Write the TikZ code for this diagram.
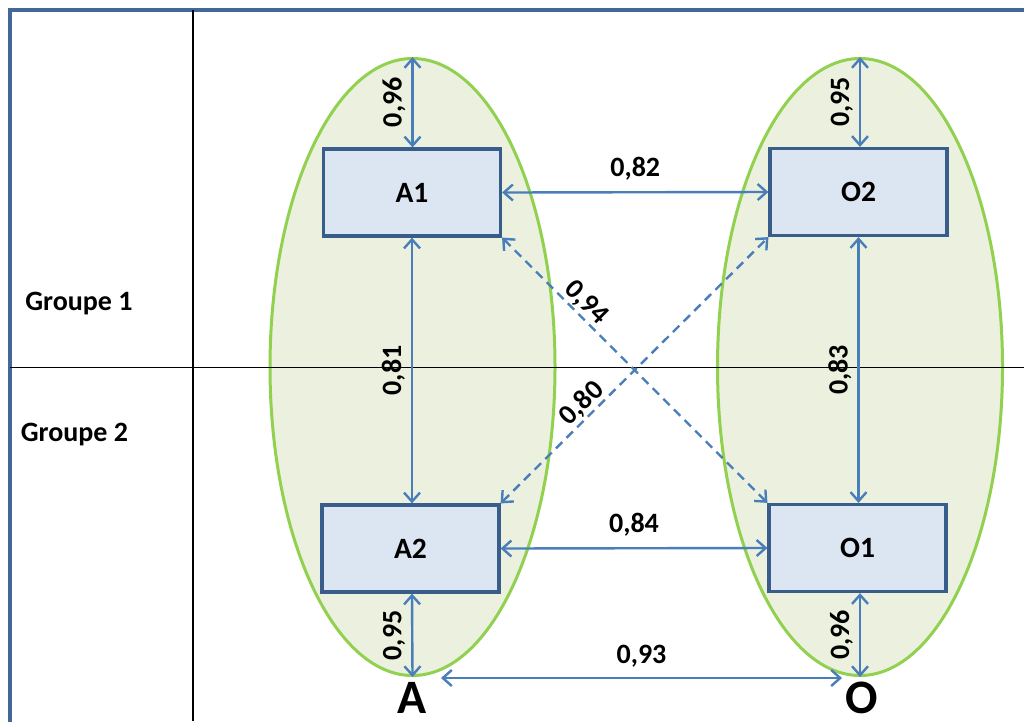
\documentclass[tikz,border=0pt]{standalone}
\usepackage{fontspec}
\setmainfont{Carlito}
\usetikzlibrary{arrows.meta,shapes.geometric}
\definecolor{boxfill}{HTML}{DCE6F2}
\definecolor{boxline}{HTML}{385D8A}
\definecolor{ellfill}{HTML}{EBF1DE}
\definecolor{ellline}{HTML}{92D050}
\definecolor{arrowc}{HTML}{4A7EBB}
\definecolor{framec}{HTML}{42679A}
\begin{document}
\begin{tikzpicture}[x=1pt,y=-1pt,
  font=\fontsize{28}{32}\selectfont\bfseries,
  box/.style={draw=boxline, fill=boxfill, line width=3.2pt, minimum width=177pt, minimum height=87pt, inner sep=0pt, font=\fontsize{29.5}{32}\selectfont\bfseries},
  oval/.style={ellipse, draw=ellline, fill=ellfill, line width=3pt, minimum width=285pt, minimum height=617pt, inner sep=0pt},
  link/.style={draw=arrowc, line width=2.4pt, {Straight Barb[length=9pt,width=16pt]}-{Straight Barb[length=9pt,width=16pt]}},
  dlink/.style={link, dash pattern=on 9pt off 6pt},
  vlab/.style={rotate=90, anchor=base, yshift=11pt, inner sep=0pt},
  hlab/.style={anchor=base, yshift=16pt, inner sep=0pt},
  slab/.style={sloped, above, inner sep=1pt},
  big/.style={anchor=base, font=\fontsize{48}{50}\selectfont\bfseries, inner sep=0pt},
  grp/.style={anchor=base, inner sep=0pt}
]
\path[use as bounding box] (0,0) rectangle (1024,721);
\clip (0,0) rectangle (1024,721);
\fill[white] (0,0) rectangle (1024,721);
% frame and table lines
\draw[framec, line width=3.2pt] (10,10) rectangle (1040,740);
% ellipses
\node[oval] (eA) at (412.5,367) {};
\node[oval] (eO) at (860,367) {};
\draw[black, line width=1pt] (10,367) -- (1024,367);
\draw[black, line width=1.3pt] (193,10) -- (193,721);
% group labels
\node[grp] (g1) at (79,310) {Groupe 1};
\node[grp] (g2) at (74.5,441) {Groupe 2};
% boxes
\node[box] (A1) at (412,192.5) {A1};
\node[box] (A2) at (410.5,548.5) {A2};
\node[box] (O2) at (858.5,192) {O2};
\node[box] (O1) at (857.5,548) {O1};
% letters
\node[big] (Alab) at (412,713) {A};
\node[big] (Olab) at (862,713) {O};
\coordinate (aend) at (441,678);
\coordinate (oend) at (842,678);
% vertical arrows
\draw[link] (eA.north) -- node[vlab]{0,96} (eA.north |- A1.north);
\draw[link] (A1.south) -- node[vlab]{0,81} (A1.south |- A2.north);
\draw[link] (A1.south |- A2.south) -- node[vlab]{0,95} (eA.south);
\draw[link] (eO.north) -- node[vlab]{0,95} (eO.north |- O2.north);
\draw[link] (O2.south) -- node[vlab]{0,83} (O2.south |- O1.north);
\draw[link] (eO.south |- O1.south) -- node[vlab]{0,96} (eO.south);
% horizontal arrows
\draw[link] (A1.east) -- node[hlab]{0,82} (O2.west);
\draw[link] (A2.east) -- node[hlab]{0,84} (O1.west);
\draw[link] (aend) -- node[hlab, yshift=-1pt]{0,93} (oend);
% diagonal dashed arrows
\draw[dlink] (A1.south east) -- node[slab, pos=0.28]{0,94} (O1.north west);
\draw[dlink] (A2.north east) -- node[slab, pos=0.34]{0,80} (O2.south west);
\end{tikzpicture}
\end{document}
